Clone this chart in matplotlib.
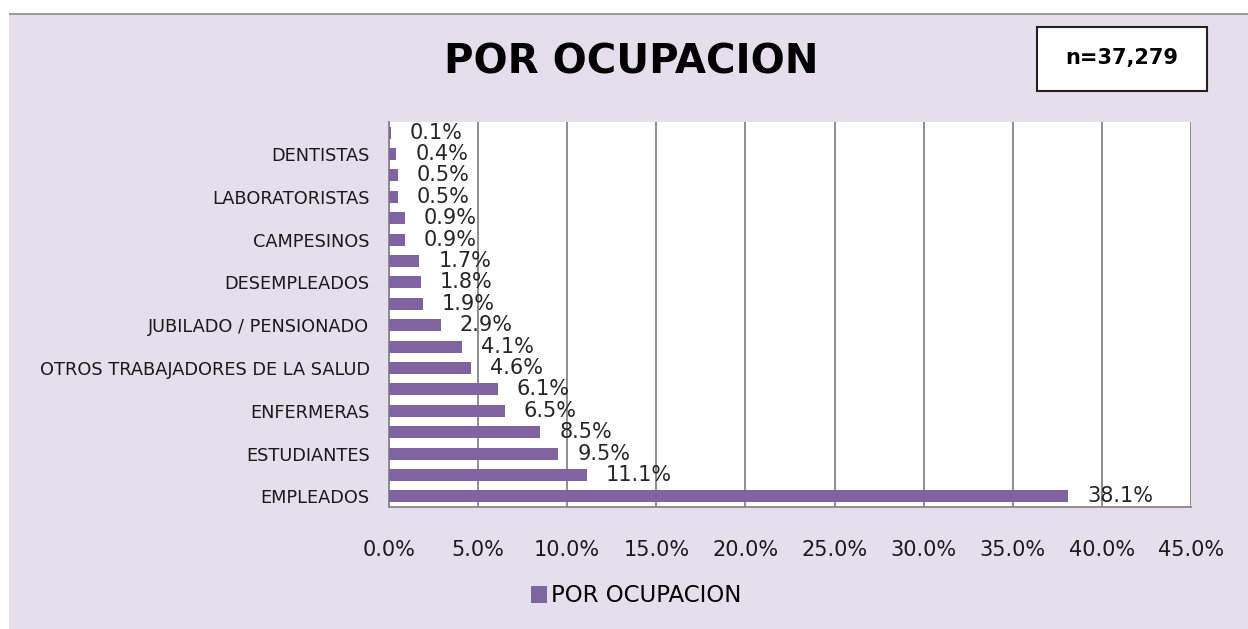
import matplotlib.pyplot as plt
from matplotlib.patches import Rectangle, Patch

# Ocupaciones, de abajo hacia arriba (las etiquetas que Excel omitió quedan vacías)
ocupaciones = ['EMPLEADOS', '', 'ESTUDIANTES', '', 'ENFERMERAS', '',
               'OTROS TRABAJADORES DE LA SALUD', '', 'JUBILADO / PENSIONADO', '',
               'DESEMPLEADOS', '', 'CAMPESINOS', '', 'LABORATORISTAS', '',
               'DENTISTAS', '']
porcentajes = [38.1, 11.1, 9.5, 8.5, 6.5, 6.1, 4.6, 4.1, 2.9, 1.9,
               1.8, 1.7, 0.9, 0.9, 0.5, 0.5, 0.4, 0.1]
x_ticks = [0, 5, 10, 15, 20, 25, 30, 35, 40, 45]

titulo = 'POR OCUPACION'
n_texto = 'n=37,279'

morado = '#8064A2'
lavanda = '#E4DFEC'
gris = '#868686'

fig = plt.figure(figsize=(12.48, 6.29), dpi=100, facecolor='white')

# fondo lavanda del gráfico de Excel + línea gris superior
fig.patches.append(Rectangle((9 / 1248, 0), 1, 1 - 15 / 629,
                             transform=fig.transFigure, facecolor=lavanda,
                             edgecolor='none', zorder=-10))
fig.patches.append(Rectangle((9 / 1248, 1 - 15 / 629), 1, 2 / 629,
                             transform=fig.transFigure, facecolor='#9A9A9A',
                             edgecolor='none', zorder=-9))

ax = fig.add_axes([389 / 1248, 1 - 507 / 629, (1191 - 389) / 1248, (507 - 122) / 629])
ax.set_facecolor('white')

pos = list(range(len(porcentajes)))
ax.barh(pos, porcentajes, height=0.56, color=morado, zorder=3)

for p, v in zip(pos, porcentajes):
    ax.annotate(f'{v:.1f}%', xy=(v, p), xytext=(19, 0), textcoords='offset pixels',
                ha='left', va='center', fontsize=15, color='#262626', zorder=4)

ax.set_xlim(0, 45)
ax.set_ylim(-0.5, len(porcentajes) - 0.5)
ax.set_xticks(x_ticks)
ax.set_xticklabels([f'{t:.1f}%' for t in x_ticks], fontsize=15, color='#1a1a1a')
ax.set_yticks(pos)
ax.set_yticklabels(ocupaciones, fontsize=12.8, color='#1a1a1a')
ax.tick_params(axis='x', length=0, pad=24)
ax.tick_params(axis='y', length=0, pad=14)

ax.grid(axis='x', color=gris, linewidth=1.3, zorder=1)
ax.set_axisbelow(True)
for s in ['top', 'right']:
    ax.spines[s].set_visible(False)
for s in ['left', 'bottom']:
    ax.spines[s].set_color(gris)
    ax.spines[s].set_linewidth(1.3)

fig.text(631 / 1248, 1 - 62 / 629, titulo, ha='center', va='center',
         fontsize=29, fontweight='bold', color='black')

# cuadro con n
fig.patches.append(Rectangle((1037 / 1248, 1 - 91 / 629), 170 / 1248, 64 / 629,
                             transform=fig.transFigure, facecolor='white',
                             edgecolor='#222222', linewidth=1.5))
fig.text(1122 / 1248, 1 - 58 / 629, n_texto, ha='center', va='center',
         fontsize=15, fontweight='bold', color='black')

fig.legend(handles=[Patch(facecolor=morado, label=titulo)],
           loc='center', bbox_to_anchor=(636 / 1248, 1 - 596 / 629),
           frameon=False, fontsize=16.5, handlelength=0.7, handleheight=0.7,
           handletextpad=0.2)

fig.savefig('out.png', dpi=100, facecolor=fig.get_facecolor())
